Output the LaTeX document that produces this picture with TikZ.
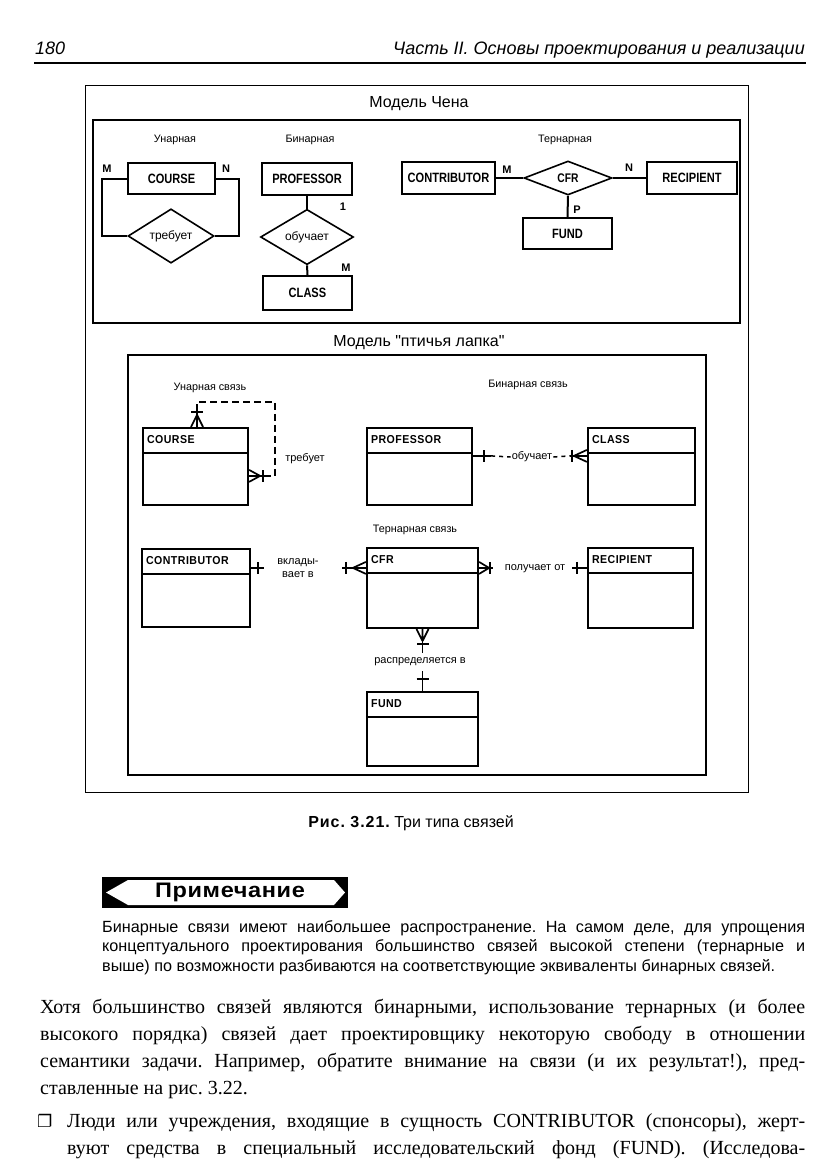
\documentclass[tikz,border=0pt]{standalone}
\usepackage{fontspec}
\setmainfont{Liberation Sans}[Ligatures=TeXOff]
\newfontfamily\bodyserif{Liberation Serif}
\newfontfamily\chenfont[FakeStretch=0.82]{Liberation Sans}
\newfontfamily\cffont[FakeStretch=0.92,LetterSpace=4]{Liberation Sans}
\newfontfamily\widefont[FakeStretch=1.12,LetterSpace=3]{Liberation Sans}
\newfontfamily\capfont[LetterSpace=6]{Liberation Sans}
\newfontfamily\dejavu{DejaVu Sans}
\usetikzlibrary{shapes.geometric,calc}
\frenchspacing

\tikzset{
  chenent/.style={draw, line width=2pt, inner sep=0pt, font=\chenfont\bfseries\fontsize{13.5}{13.5}\selectfont},
  chenrel/.style={draw, diamond, line width=1.6pt, inner sep=0pt, font=\fontsize{12}{12}\selectfont},
  chenline/.style={line width=2pt},
  card/.style={inner sep=0pt, font=\bfseries\fontsize{11}{11}\selectfont},
  cfent/.style={draw, line width=2.2pt, inner sep=0pt},
  cfname/.style={anchor=west, inner sep=0pt, font=\cffont\bfseries\fontsize{11.5}{11.5}\selectfont},
  cfline/.style={line width=1.7pt},
  cfdash/.style={line width=1.7pt, dash pattern=on 7pt off 4pt},
  cfdot/.style={line width=1.5pt, dash pattern=on 4pt off 4pt},
  cflabel/.style={inner sep=1pt, font=\fontsize{11}{12.5}\selectfont},
  grouplabel/.style={inner sep=0pt, font=\fontsize{10.8}{12}\selectfont},
  title/.style={inner sep=0pt, font=\fontsize{16}{16}\selectfont},
  notetext/.style={anchor=base west, inner sep=0pt, font=\fontsize{16.2}{16.2}\selectfont},
  bodytext/.style={anchor=base west, inner sep=0pt, font=\bodyserif\fontsize{20}{20}\selectfont},
}

% crow's foot: anchor, outward dx, outward dy, length
\newcommand\crowmark[4]{%
  \draw[cfline] ($(#1)+#4*(#2,#3)$) -- ($(#1)+6*(#3,#2)$)
                ($(#1)+#4*(#2,#3)$) -- (#1)
                ($(#1)+#4*(#2,#3)$) -- ($(#1)-6*(#3,#2)$);}
% single bar: anchor, outward dx, outward dy, distance
\newcommand\barmark[4]{%
  \draw[cfline] ($(#1)+#4*(#2,#3)+6*(#3,#2)$) -- ($(#1)+#4*(#2,#3)-6*(#3,#2)$);}
% crow's foot entity: name, cx, cy, w, h, text
\newcommand\cfentity[6]{%
  \node[cfent, minimum width=#4pt, minimum height=#5pt] (#1) at (#2,#3) {};
  \draw[line width=1.2pt] ($(#1.north west)+(0,26)$) -- ($(#1.north east)+(0,26)$);
  \node[cfname] at ($(#1.north west)+(5,13)$) {#6};}

\begin{document}
\begin{tikzpicture}[x=1pt,y=-1pt]
\useasboundingbox (0,0) rectangle (831,1175);

% ---------- running head
\node[anchor=base west, inner sep=0pt, font=\itshape\fontsize{18}{18}\selectfont] (pgno) at (35,54) {180};
\node[anchor=base east, inner sep=0pt, font=\itshape\fontsize{18}{18}\selectfont] (runhead) at (805,54) {Часть II. Основы проектирования и реализации};
\draw[line width=2.2pt] (34,63) -- (806,63);

% ---------- figure frame
\draw[line width=1pt] (85,85) rectangle (748,792);

% ---------- Chen model
\node[title] (chenttl) at (419,104) {Модель Чена};
\draw[line width=2.5pt] (93,120) rectangle (740,323);
\node[grouplabel] (gl1) at (175,140) {Унарная};
\node[grouplabel] (gl2) at (310,140) {Бинарная};
\node[grouplabel] (gl3) at (565,140) {Тернарная};

\node[chenent, minimum width=87pt, minimum height=31pt] (ccourse) at (171.5,178.5) {COURSE};
\node[chenrel, minimum width=86pt, minimum height=35pt] (treb) at (171,236) {требует};
\draw[chenline] (ccourse.west) -- ++(-25,0) |- (treb.west);
\draw[chenline] (ccourse.east) -- ++(23,0) |- (treb.east);
\node[card] (cm1) at (107,169) {M};
\node[card] (cn1) at (226,169) {N};

\node[chenent, minimum width=90pt, minimum height=32pt] (cprof) at (307,179) {PROFESSOR};
\node[chenrel, minimum width=93pt, minimum height=34pt] (obuch) at (307,237) {обучает};
\node[chenent, minimum width=89pt, minimum height=34pt] (cclass) at (307.5,293) {CLASS};
\draw[chenline] (cprof.south) -- (obuch.north);
\draw[chenline] (obuch.south) -- (cclass.north);
\node[card] (c1) at (343,207) {1};
\node[card] (cm2) at (346,268) {M};

\node[chenent, minimum width=93pt, minimum height=32pt] (ccontr) at (448.5,178) {CONTRIBUTOR};
\node[chenrel, minimum width=88pt, minimum height=34pt, font=\chenfont\bfseries\fontsize{12.5}{12.5}\selectfont] (ccfr) at (568,178) {CFR};
\node[chenent, minimum width=90pt, minimum height=32pt] (crec) at (692,178) {RECIPIENT};
\node[chenent, minimum width=89pt, minimum height=31pt] (cfund) at (567.5,233.5) {FUND};
\draw[chenline] (ccontr.east) -- (ccfr.west);
\draw[chenline] (ccfr.east) -- (crec.west);
\draw[chenline] (ccfr.south) -- (cfund.north);
\node[card] (cm3) at (507,170) {M};
\node[card] (cn3) at (629,168) {N};
\node[card] (cp3) at (577,210) {P};

% ---------- Crow's foot model
\node[title] (cfttl) at (419,343) {Модель "птичья лапка"};
\draw[line width=1.5pt] (128,355) rectangle (706,775);
\node[grouplabel] (gl4) at (210,388) {Унарная связь};
\node[grouplabel] (gl5) at (528,385) {Бинарная связь};
\node[grouplabel] (gl6) at (415,530) {Тернарная связь};

\cfentity{cfcourse}{195.5}{466.5}{105}{77}{COURSE}
\cfentity{cfprof}{419.5}{466.5}{105}{77}{PROFESSOR}
\cfentity{cfclass}{641.5}{466.5}{107}{77}{CLASS}
\cfentity{cfcontr}{196}{588}{108}{78}{CONTRIBUTOR}
\cfentity{cfcfr}{422.5}{588}{111}{80}{CFR}
\cfentity{cfrec}{640.5}{588}{105}{80}{RECIPIENT}
\cfentity{cffund}{422.5}{729}{111}{74}{FUND}

% unary: COURSE requires COURSE
\coordinate (ctop) at ($(cfcourse.north)+(1.5,0)$);
\coordinate (crt) at ($(cfcourse.north east)+(0,49)$);
\draw[cfline] (ctop) -- ++(0,-16);
\draw[cfdash] ($(ctop)+(0,-16)$) -- ++(0,-9) -| ($(crt)+(26,0)$) -- ($(crt)+(16,0)$);
\draw[cfline] (crt) -- ++(16,0);
\crowmark{ctop}{0}{-1}{12}
\barmark{ctop}{0}{-1}{15}
\crowmark{crt}{1}{0}{11}
\barmark{crt}{1}{0}{14}
\node[cflabel] (trl) at (305,459) {требует};

% binary: PROFESSOR teaches CLASS
\coordinate (pe) at ($(cfprof.north east)+(0,29)$);
\coordinate (ce) at (cfclass.west |- pe);
\node[cflabel] (obl) at (532,457) {обучает};
\draw[cfline] (pe) -- ++(18,0);
\draw[cfdot] ($(pe)+(18,0)$) -- (obl.west);
\draw[cfdot] (obl.east) -- ($(ce)+(-17,0)$);
\draw[cfline] ($(ce)+(-17,0)$) -- (ce);
\barmark{pe}{1}{0}{11}
\crowmark{ce}{-1}{0}{13}
\barmark{ce}{-1}{0}{15}

% ternary
\coordinate (ke) at ($(cfcontr.north east)+(0,20)$);
\coordinate (fw) at (cfcfr.west |- ke);
\coordinate (fe) at (cfcfr.east |- ke);
\coordinate (rw) at (cfrec.west |- ke);
\coordinate (fs) at (cfcfr.south);
\coordinate (dn) at (cffund.north);
\node[cflabel, align=center] (vkl) at (298,568) {вклады-\\вает в};
\draw[cfline] (ke) -- ++(13,0);
\barmark{ke}{1}{0}{7}
\draw[cfline] (fw) -- ++(-24,0);
\crowmark{fw}{-1}{0}{13}
\barmark{fw}{-1}{0}{20}
\node[cflabel] (pol) at (535,569) {получает от};
\draw[cfline] (fe) -- ++(14,0);
\crowmark{fe}{1}{0}{10}
\barmark{fe}{1}{0}{11}
\draw[cfline] (rw) -- ++(-15,0);
\barmark{rw}{-1}{0}{10}
\draw[cfline] (fs) -- ++(0,24);
\crowmark{fs}{0}{1}{12}
\barmark{fs}{0}{1}{15}
\node[cflabel] (rasp) at (420,662) {распределяется в};
\draw[cfline] (dn) -- ++(0,-20);
\barmark{dn}{0}{-1}{12}

% ---------- caption
\node[inner sep=0pt, font=\fontsize{16}{16}\selectfont] (cap) at (411,823) {{\capfont\bfseries Рис. 3.21.} Три типа связей};

% ---------- note banner
\fill (102,877) rectangle (348,908);
\fill[white] (106,892.5) -- (128,880) -- (334,880) -- (345,892.5) -- (334,905) -- (128,905) -- cycle;
\node[inner sep=0pt, font=\widefont\bfseries\fontsize{21}{21}\selectfont] (notehd) at (230,892.5) {Примечание};

\node[notetext] (n1) at (102,932) {\hbox to 703pt{Бинарные связи имеют наибольшее распространение. На самом деле, для упрощения}};
\node[notetext] (n2) at (102,951.5) {\hbox to 703pt{концептуального проектирования большинство связей высокой степени (тернарные и}};
\node[notetext] (n3) at (102,971) {выше) по возможности разбиваются на соответствующие эквиваленты бинарных связей.};

% ---------- body text
\node[bodytext] (b1) at (40,1013) {\hbox to 765pt{Хотя большинство связей являются бинарными, использование тернарных (и более}};
\node[bodytext] (b2) at (40,1040) {\hbox to 765pt{высокого порядка) связей дает проектировщику некоторую свободу в отношении}};
\node[bodytext] (b3) at (40,1067) {\hbox to 765pt{семантики задачи. Например, обратите внимание на связи (и их результат!), пред-}};
\node[bodytext] (b4) at (40,1094) {ставленные на рис. 3.22.};
\node[anchor=base west, inner sep=0pt, font=\dejavu\fontsize{17}{17}\selectfont] (bul) at (37,1127) {❐};
\node[bodytext] (b5) at (67,1127) {\hbox to 738pt{Люди или учреждения, входящие в сущность CONTRIBUTOR (спонсоры), жерт-}};
\node[bodytext] (b6) at (67,1154) {\hbox to 738pt{вуют средства в специальный исследовательский фонд (FUND). (Исследова-}};
\end{tikzpicture}
\end{document}
